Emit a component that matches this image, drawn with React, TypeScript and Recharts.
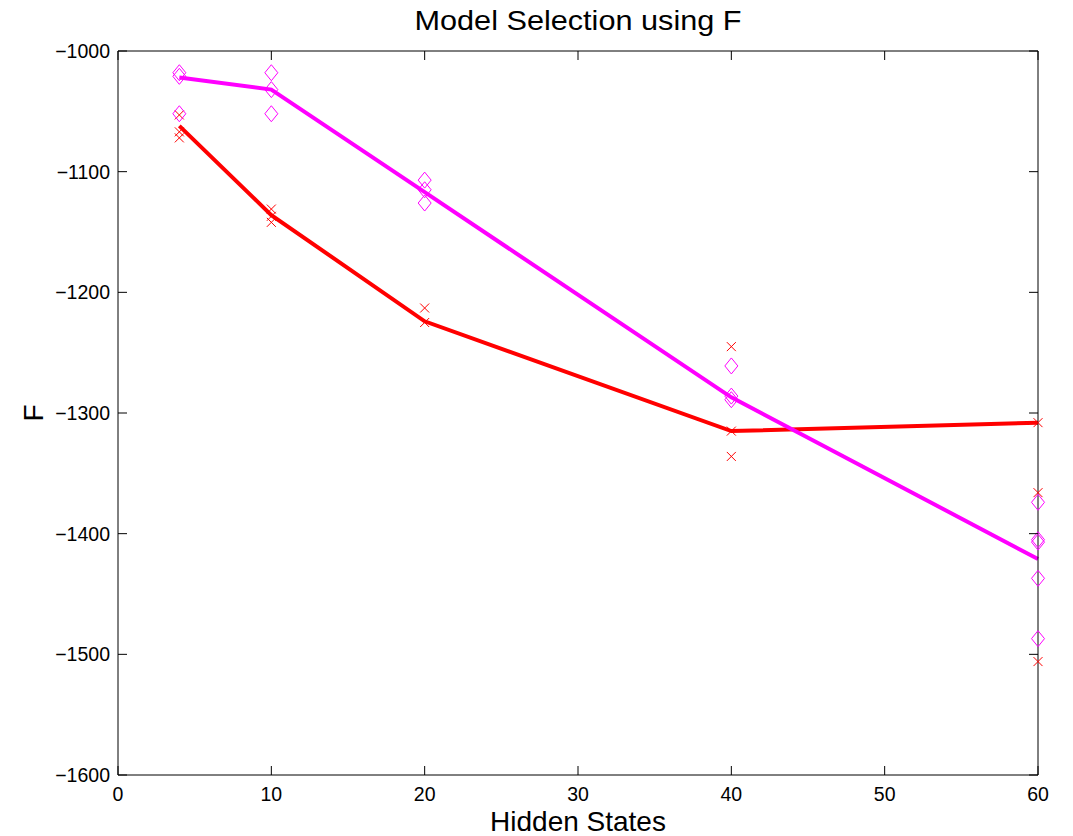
import { ComposedChart, Line, Scatter, XAxis, YAxis } from "recharts";

// hidden state counts tried
const hiddenStates = [4, 10, 20, 40, 60];

// averaged F per model
const fullCovLine = [-1062, -1136, -1224, -1315, -1308];
const diagCovLine = [-1022, -1032, -1117, -1287, -1421];

// single runs, one list per hidden-state count
const fullCovRuns = [
  [-1053, -1067, -1072],
  [-1131, -1137, -1142],
  [-1213, -1225],
  [-1245, -1315, -1336],
  [-1308, -1366, -1506],
];
const diagCovRuns = [
  [-1018, -1021, -1052],
  [-1018, -1032, -1052],
  [-1107, -1115, -1126],
  [-1261, -1286, -1289],
  [-1374, -1405, -1407, -1437, -1487],
];

const xTicks = [0, 10, 20, 30, 40, 50, 60];
const yTicks = [-1600, -1500, -1400, -1300, -1200, -1100, -1000];

const RED = "#ff0000";
const MAGENTA = "#ff00ff";
const FONT = "'Liberation Sans', Arial, Helvetica, sans-serif";
const TICK_LEN = 9;

const linePoints = (ys: number[]) => hiddenStates.map((x, i) => ({ x, y: ys[i] }));
const runPoints = (runs: number[][]) =>
  runs.flatMap((ys, i) => ys.map((y) => ({ x: hiddenStates[i], y })));

const fmt = (v: number) => (v < 0 ? "\u2212" + Math.abs(v) : String(v));

const Cross = (props: any) => {
  const { cx, cy } = props;
  const r = 4.5;
  return (
    <g stroke={RED} strokeWidth={1}>
      <line x1={cx - r} y1={cy - r} x2={cx + r} y2={cy + r} />
      <line x1={cx - r} y1={cy + r} x2={cx + r} y2={cy - r} />
    </g>
  );
};

const Diamond = (props: any) => {
  const { cx, cy } = props;
  const w = 6.5;
  const h = 8;
  return (
    <path
      d={`M${cx},${cy - h}L${cx + w},${cy}L${cx},${cy + h}L${cx - w},${cy}Z`}
      fill="none"
      stroke={MAGENTA}
      strokeWidth={1}
    />
  );
};

// inward tick marks, matlab style; labels only on bottom / left
const makeTick = (side: "bottom" | "left" | "top" | "right") => (props: any) => {
  const { x, y, payload } = props;
  let dx = 0;
  let dy = 0;
  if (side === "bottom") dy = -TICK_LEN;
  if (side === "top") dy = TICK_LEN;
  if (side === "left") dx = TICK_LEN;
  if (side === "right") dx = -TICK_LEN;
  return (
    <g>
      <line x1={x} y1={y} x2={x + dx} y2={y + dy} stroke="#000" strokeWidth={1} />
      {side === "bottom" && (
        <text x={x} y={y + 12} dy="0.71em" textAnchor="middle" fontSize={19.5} fontFamily={FONT} fill="#000">
          {fmt(payload.value)}
        </text>
      )}
      {side === "left" && (
        <text x={x - 8} y={y} dy="0.355em" textAnchor="end" fontSize={19.5} fontFamily={FONT} fill="#000">
          {fmt(payload.value)}
        </text>
      )}
    </g>
  );
};

const Title = (props: any) => {
  const vb = props.viewBox;
  return (
    <text
      x={vb.x + vb.width / 2}
      y={30}
      textAnchor="middle"
      fontSize={28}
      fontFamily={FONT}
      fill="#000"
      textLength={327}
      lengthAdjust="spacingAndGlyphs"
    >
      Model Selection using F
    </text>
  );
};

const XTitle = (props: any) => {
  const vb = props.viewBox;
  return (
    <text x={vb.x + vb.width / 2} y={vb.y + 56} textAnchor="middle" fontSize={28} fontFamily={FONT} fill="#000">
      Hidden States
    </text>
  );
};

const YTitle = (props: any) => {
  const vb = props.viewBox;
  const x = 43;
  const y = vb.y + vb.height / 2;
  return (
    <text x={x} y={y} transform={`rotate(-90, ${x}, ${y})`} textAnchor="middle" fontSize={28} fontFamily={FONT} fill="#000">
      F
    </text>
  );
};

const axisLine = { stroke: "#000", strokeWidth: 1 };

export default function App() {
  return (
    <div style={{ position: "absolute", left: 0, top: 0, background: "#fff" }}>
      <ComposedChart width={1073} height={836} margin={{ top: 50, right: 34, bottom: 0, left: 0 }}>
        <XAxis
          xAxisId="bottom"
          type="number"
          dataKey="x"
          domain={[0, 60]}
          ticks={xTicks}
          interval={0}
          height={61}
          tickSize={0}
          tickMargin={0}
          tick={makeTick("bottom")}
          axisLine={axisLine}
          tickLine={false}
          label={{ content: XTitle }}
        />
        <XAxis
          xAxisId="top"
          orientation="top"
          type="number"
          dataKey="x"
          domain={[0, 60]}
          ticks={xTicks}
          interval={0}
          height={1}
          tickSize={0}
          tickMargin={0}
          tick={makeTick("top")}
          axisLine={axisLine}
          tickLine={false}
          label={{ content: Title }}
        />
        <YAxis
          yAxisId="left"
          type="number"
          dataKey="y"
          domain={[-1600, -1000]}
          ticks={yTicks}
          interval={0}
          width={118}
          tickSize={0}
          tickMargin={0}
          tick={makeTick("left")}
          axisLine={axisLine}
          tickLine={false}
          label={{ content: YTitle }}
        />
        <YAxis
          yAxisId="right"
          orientation="right"
          type="number"
          dataKey="y"
          domain={[-1600, -1000]}
          ticks={yTicks}
          interval={0}
          width={1}
          tickSize={0}
          tickMargin={0}
          tick={makeTick("right")}
          axisLine={axisLine}
          tickLine={false}
        />
        <Scatter
          xAxisId="bottom"
          yAxisId="left"
          data={runPoints(fullCovRuns)}
          shape={Cross}
          isAnimationActive={false}
        />
        <Scatter
          xAxisId="top"
          yAxisId="right"
          data={runPoints(diagCovRuns)}
          shape={Diamond}
          isAnimationActive={false}
        />
        <Line
          xAxisId="bottom"
          yAxisId="left"
          data={linePoints(fullCovLine)}
          dataKey="y"
          type="linear"
          stroke={RED}
          strokeWidth={4}
          dot={false}
          isAnimationActive={false}
        />
        <Line
          xAxisId="bottom"
          yAxisId="left"
          data={linePoints(diagCovLine)}
          dataKey="y"
          type="linear"
          stroke={MAGENTA}
          strokeWidth={4}
          dot={false}
          isAnimationActive={false}
        />
      </ComposedChart>
    </div>
  );
}
